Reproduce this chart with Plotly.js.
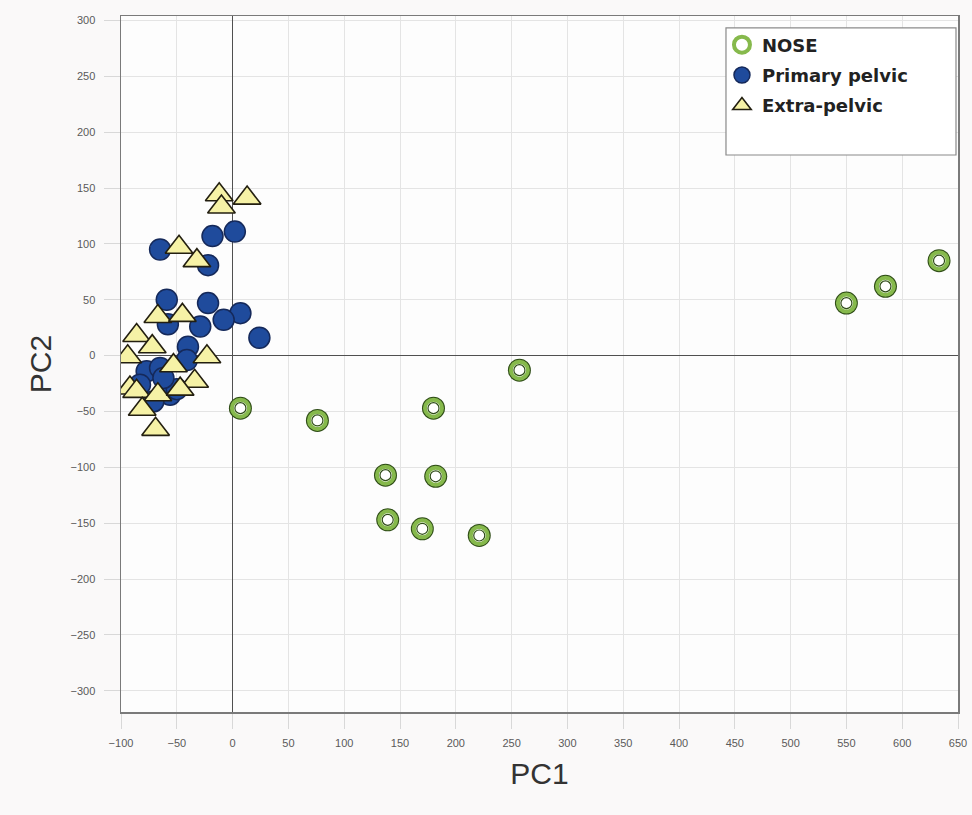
<!DOCTYPE html>
<html>
<head>
<meta charset="utf-8">
<script src="https://cdn.plot.ly/plotly-3.0.1.min.js"></script>
<style>
  html, body { margin: 0; padding: 0; background: #faf9f9; }
  #chart { width: 972px; height: 815px; }
</style>
</head>
<body>
<div id="chart"></div>
<script>
// ---- data ----
const noseName = "NOSE";
const noseX = [7, 76, 180, 257, 137, 182, 139, 170, 221, 550, 585, 633];
const noseY = [-47, -58, -47, -13, -107, -108, -147, -155, -161, 47, 62, 85];

const primaryName = "Primary pelvic";
const primaryX = [-65, -18, 2, -22, -59, -22, 7, -8, 24, -29, -58, -40, -41, -77, -65, -56, -50, -83, -71, -62];
const primaryY = [95, 107, 111, 81, 50, 47, 38, 32, 16, 26, 28, 8, -4, -14, -11, -35, -30, -26, -41, -20];

const extraName = "Extra-pelvic";
const extraX = [-12, -10, 13, -48, -32, -67, -45, -86, -72, -94, -23, -53, -34, -92, -86, -67, -47, -81, -69];
const extraY = [144, 133, 141, 97, 85, 35, 36, 18, 8, -1, -1, -9, -23, -29, -32, -35, -30, -48, -66];

const xTitle = "PC1";
const yTitle = "PC2";

// ---- traces ----
const traces = [
  { // dark rim under NOSE rings
    x: noseX, y: noseY, type: "scatter", mode: "markers",
    showlegend: false, hoverinfo: "skip", legendgroup: "a",
    marker: { symbol: "circle", size: 23, color: "#2f4d17", line: { width: 0 } }
  },
  {
    x: noseX, y: noseY, type: "scatter", mode: "markers",
    name: noseName, legendgroup: "a",
    marker: { symbol: "circle", size: 17, color: "#ffffff", line: { color: "#86b94c", width: 4 } }
  },
  { // inner outline
    x: noseX, y: noseY, type: "scatter", mode: "markers",
    showlegend: false, hoverinfo: "skip", legendgroup: "a",
    marker: { symbol: "circle", size: 11, color: "#ffffff", line: { color: "#2f4d17", width: 1.2 } }
  },
  {
    x: primaryX, y: primaryY, type: "scatter", mode: "markers",
    name: primaryName, legendgroup: "b",
    marker: { symbol: "circle", size: 21, color: "#1f4b9c", line: { color: "#15295a", width: 1.5 } }
  },
  {
    x: extraX, y: extraY, type: "scatter", mode: "markers",
    name: extraName, legendgroup: "c",
    marker: { symbol: "triangle-up", size: 24, color: "#f6f2a6", line: { color: "#231f10", width: 1.6 } }
  }
];

const axisCommon = {
  dtick: 50, tick0: 0,
  showgrid: true, gridcolor: "#e4e4e4", gridwidth: 1,
  zeroline: true, zerolinecolor: "#505050", zerolinewidth: 1,
  showline: true, linecolor: "#7a7a7a", linewidth: 1.5, mirror: true,
  ticks: "outside", tickcolor: "#d8d8d8", tickwidth: 1,
  tickfont: { family: "Liberation Sans, Arial, sans-serif", size: 11, color: "#5a5a5a" },
  automargin: false
};

const layout = {
  width: 972, height: 815,
  margin: { l: 121, r: 14, t: 16, b: 103 },
  paper_bgcolor: "#faf9f9",
  plot_bgcolor: "#fdfdfd",
  showlegend: true,
  xaxis: Object.assign({}, axisCommon, {
    range: [-100, 650], ticklen: 15, ticklabelstandoff: 5,
    title: { text: xTitle, standoff: 15, font: { family: "Liberation Sans, Arial, sans-serif", size: 30, color: "#333333" } }
  }),
  yaxis: Object.assign({}, axisCommon, {
    range: [-319, 304], ticklen: 16, ticklabelstandoff: 6,
    title: { text: yTitle, standoff: 10, font: { family: "Liberation Sans, Arial, sans-serif", size: 30, color: "#333333" } }
  }),
  legend: {
    x: 0.718, y: 0.985, xanchor: "left", yanchor: "top",
    bgcolor: "rgba(0,0,0,0)", borderwidth: 0,
    traceorder: "grouped", tracegroupgap: 4,
    itemwidth: 30,
    font: { family: "DejaVu Sans, sans-serif", size: 18, color: "#222222", weight: "bold" }
  },
  shapes: [
    { type: "rect", xref: "paper", yref: "paper",
      x0: 0.7228, x1: 0.9976, y0: 0.8003, y1: 0.9828,
      fillcolor: "#ffffff", line: { color: "#8a8a8a", width: 1.2 }, layer: "above" }
  ]
};

Plotly.newPlot("chart", traces, layout, { displayModeBar: false, staticPlot: true });
</script>
</body>
</html>
